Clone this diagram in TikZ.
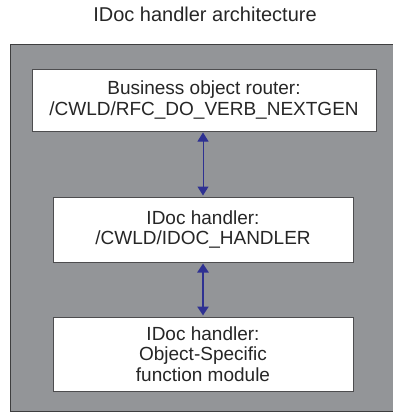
\documentclass[tikz,border=0pt]{standalone}
\usepackage{fontspec}
\setmainfont{Liberation Sans}
\usetikzlibrary{arrows.meta}
\definecolor{panelgray}{HTML}{939598}
\definecolor{edgegray}{HTML}{4D4D4F}
\definecolor{arrblue}{HTML}{2E3192}
\tikzset{
  boxnode/.style={draw=edgegray, line width=1pt, fill=white, align=center, inner sep=0pt,
    font=\fontsize{19}{20.5}\selectfont, text=black!85},
  arr/.style={arrblue, {Triangle[length=9pt,width=11pt]}-{Triangle[length=9pt,width=11pt]}, shorten <=1pt, shorten >=1pt},
}
\begin{document}
\begin{tikzpicture}[x=1pt,y=-1pt]
\useasboundingbox (0,0) rectangle (392,412);
\node (title) at (205,14.5) [font=\fontsize{20}{22}\selectfont, text=black!85] {IDoc handler architecture};
\path[fill=panelgray, draw=edgegray!80!black, line width=1pt] (10,45) rectangle (396,411);
\node[boxnode, minimum width=344pt, minimum height=62pt] (router) at (204,100)
  {Business object router:\\/CWLD/RFC\_DO\_VERB\_NEXTGEN};
\node[boxnode, minimum width=300pt, minimum height=65pt] (handler) at (203,229.5)
  {IDoc handler:\\/CWLD/IDOC\_HANDLER};
\node[boxnode, minimum width=300pt, minimum height=74pt] (module) at (203,354)
  {IDoc handler:\\Object-Specific\\function module};
\draw[arr, line width=1pt] (handler.north |- router.south) -- (handler.north);
\draw[arr, line width=2.5pt] (handler.south) -- (module.north);
\end{tikzpicture}
\end{document}
